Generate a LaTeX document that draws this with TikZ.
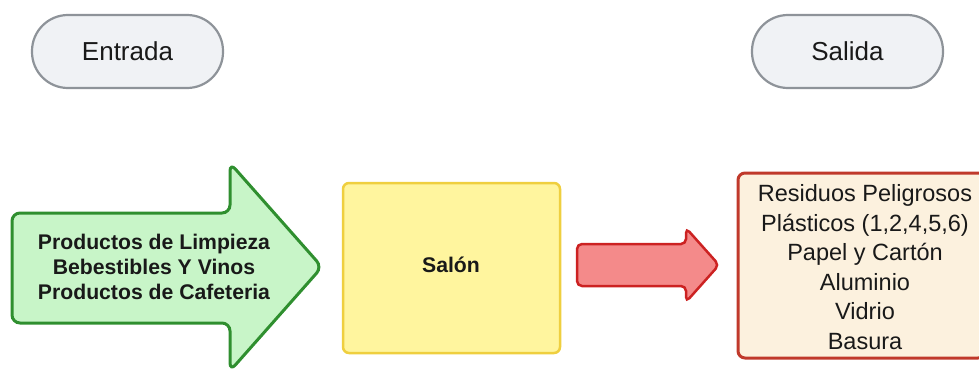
\documentclass[tikz,border=0pt]{standalone}
\usepackage{fontspec}
\setmainfont{Liberation Sans}
\definecolor{pillfill}{HTML}{F0F2F5}
\definecolor{pillline}{HTML}{8E9399}
\definecolor{grfill}{HTML}{C8F5C8}
\definecolor{grline}{HTML}{2F8F2F}
\definecolor{yefill}{HTML}{FFF59E}
\definecolor{yeline}{HTML}{EFCF3F}
\definecolor{rdfill}{HTML}{F48A8A}
\definecolor{rdline}{HTML}{CC2222}
\definecolor{crfill}{HTML}{FCF1DE}
\definecolor{crline}{HTML}{C0392B}
\tikzset{
  pill/.style={draw=pillline, fill=pillfill, line width=2.2pt, rounded corners=36pt},
  pilltext/.style={font=\fontsize{26}{31}\selectfont, text=black!90},
  boldtext/.style={font=\fontsize{21.2}{25}\selectfont\bfseries, align=center, text=black!90},
  listtext/.style={font=\fontsize{23.5}{29.5}\selectfont, align=center, text=black!90},
}
\begin{document}
\begin{tikzpicture}[x=1pt,y=-1pt]
\useasboundingbox (0,0) rectangle (979,369);
% pills
\draw[pill] (32,15) rectangle (223,88);
\node[pilltext] (entrada) at (127.5,51.5) {Entrada};
\draw[pill] (752,15) rectangle (943,88);
\node[pilltext] (salida) at (847.5,51.5) {Salida};
% green arrow
\draw[draw=grline, fill=grfill, line width=3pt, rounded corners=8pt]
  (12,213) -- (230,213) -- (230,163) -- (322,267) -- (230,371) -- (230,323) -- (12,323) -- cycle;
\node[boldtext] (entr) at (154,267) {Productos de Limpieza\\Bebestibles Y Vinos\\Productos de Cafeteria};
% yellow box
\draw[draw=yeline, fill=yefill, line width=2.5pt, rounded corners=6pt] (343,183) rectangle (560,353);
\node[boldtext] (salon) at (451,265) {Salón};
% red arrow
\draw[draw=rdline, fill=rdfill, line width=2.5pt, rounded corners=5pt]
  (577,244) -- (686,244) -- (686,228) -- (719,265) -- (686,302) -- (686,286) -- (577,286) -- cycle;
% output box
\draw[draw=crline, fill=crfill, line width=3pt, rounded corners=7pt] (738,173) rectangle (985,358);
\node[listtext] (resid) at (865,267) {Residuos Peligrosos\\Plásticos (1,2,4,5,6)\\Papel y Cartón\\Aluminio\\Vidrio\\Basura};
\end{tikzpicture}
\end{document}
